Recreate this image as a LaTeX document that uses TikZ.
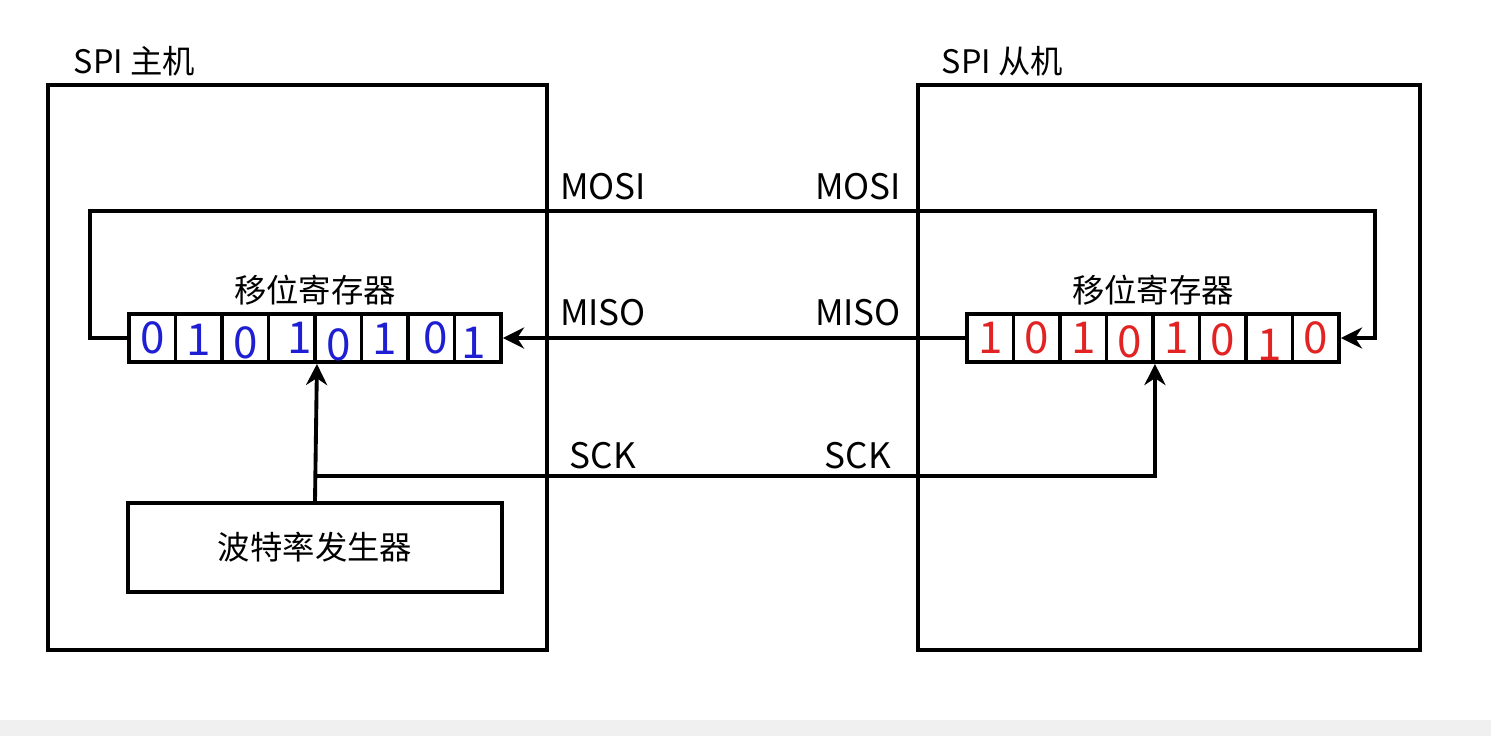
\documentclass[tikz,border=0pt]{standalone}
\usepackage{fontspec}
\setmainfont{Noto Sans CJK SC}
\usetikzlibrary{arrows.meta}
\definecolor{bit_blue}{RGB}{30,30,210}
\definecolor{bit_red}{RGB}{225,35,35}
\definecolor{band_gray}{RGB}{240,240,240}

\begin{document}
\begin{tikzpicture}[x=0.01cm,y=-0.01cm,line width=1.1pt,>={Stealth[length=6pt,width=6pt]}]
    \tikzstyle{board}=[draw, rectangle, inner sep=0pt]
    \tikzstyle{cell}=[draw, rectangle, minimum width=0.465cm, minimum height=0.48cm, inner sep=0pt]
    \tikzstyle{bit}=[font=\fontsize{12.5}{14}\selectfont, inner sep=0pt]
    \tikzstyle{txt}=[font=\fontsize{9.2}{11}\selectfont, inner sep=0pt]
    \tikzstyle{sig}=[font=\fontsize{10}{12}\selectfont, inner sep=0pt]

    \useasboundingbox (0,0) rectangle (1491,736);
    \fill[band_gray] (0,720) rectangle (1491,736);

    \node[board, minimum width=4.99cm, minimum height=5.65cm] (master) at (297.5,367.5) {};
    \node[board, minimum width=5.02cm, minimum height=5.65cm] (slave)  at (1169,367.5)  {};
    \node[txt, anchor=base west] (mname) at (72,73)  {SPI 主机};
    \node[txt, anchor=base west] (sname) at (940,73) {SPI 从机};

    \node[txt] (mreg) at (315,290)  {移位寄存器};
    \node[txt] (sreg) at (1153,290) {移位寄存器};
    \foreach \i/\b/\dx/\dy in {1/0/0/0,2/1/0/2,3/0/0/5,4/1/8/0,5/0/0/7,6/1/0/1,7/0/4/0,8/1/-4/5}{
      \node[cell] (m\i) at ({129+46.5*(\i-0.5)},338) {};
      \node[bit, text=bit_blue, xshift=\dx*0.2845pt, yshift=-\dy*0.2845pt] (mb\i) at (m\i) {\b};
    }
    \foreach \i/\b/\dy in {1/1/0,2/0/0,3/1/0,4/0/4,5/1/0,6/0/2,7/1/7,8/0/0}{
      \node[cell] (s\i) at ({967+46.5*(\i-0.5)},338) {};
      \node[bit, text=bit_red, yshift=-\dy*0.2845pt] (sb\i) at (s\i) {\b};
    }

    \node[board, txt, minimum width=3.73cm, minimum height=0.89cm] (baud) at (315,547.5) {\raisebox{-1.2pt}{波特率发生器}};

    \node[sig] (mosim) at (603,187) {MOSI};
    \node[sig] (mosis) at (858,187) {MOSI};
    \node[sig] (misom) at (603,313) {MISO};
    \node[sig] (misos) at (858,313) {MISO};
    \node[sig] (sckm)  at (603,456) {SCK};
    \node[sig] (scks)  at (858,456) {SCK};

    \coordinate (mosil) at (90,211);
    \coordinate (mosir) at (1375,211);
    \coordinate (fork)  at (315,476);
    \draw[->] (m1.west) -| (mosil) -- (mosir) |- (s8.east);
    \draw[->] (s1.west) -- (m8.east);
    \draw[->] (baud.north) -- (m4.south east);
    \draw[->] (fork) -| (s4.south east);
\end{tikzpicture}
\end{document}
